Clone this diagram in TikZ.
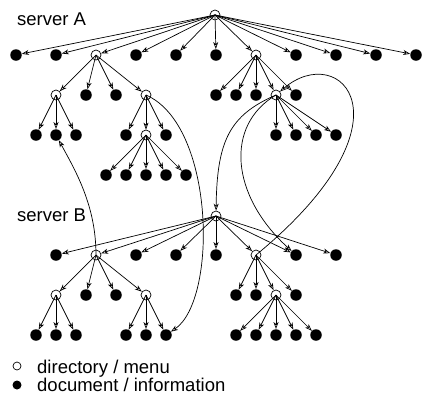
\documentclass[tikz,border=0pt]{standalone}
\usepackage{fontspec}
\setmainfont{Liberation Sans}
\usetikzlibrary{arrows.meta}
\begin{document}
\begin{tikzpicture}[x=1pt,y=-1pt,
  dir/.style={circle,draw,line width=0.7pt,minimum size=10pt,inner sep=0pt},
  doc/.style={circle,fill=black,minimum size=11.5pt,inner sep=0pt},
  arr/.style={line width=0.7pt,-{Stealth[open,length=7pt,width=5pt,inset=2pt]}},
  lab/.style={font=\fontsize{18.5}{20}\selectfont,anchor=base west,inner sep=0pt},
  legdir/.style={circle,draw,line width=0.7pt,minimum size=8pt,inner sep=0pt},
  legdoc/.style={circle,fill=black,minimum size=9pt,inner sep=0pt}]
\useasboundingbox (0,0) rectangle (433,405);

% ---------------- server A ----------------
\node[lab] (labA) at (17,25) {server A};
\node[dir] (A0) at (215,15) {};
\node[doc] (a1) at (16,55) {};
\node[doc] (a2) at (56,55) {};
\node[dir] (a3) at (96,55) {};
\node[doc] (a4) at (136,55) {};
\node[doc] (a5) at (176,55) {};
\node[doc] (a6) at (216,55) {};
\node[dir] (a7) at (256,55) {};
\node[doc] (a8) at (296,55) {};
\node[doc] (a9) at (336,55) {};
\node[doc] (a10) at (376,55) {};
\node[doc] (a11) at (416,55) {};
\node[dir] (a31) at (56,95) {};
\node[doc] (a32) at (86,95) {};
\node[doc] (a33) at (116,95) {};
\node[dir] (a34) at (146,95) {};
\node[doc] (a311) at (36,135) {};
\node[doc] (a312) at (56,135) {};
\node[doc] (a313) at (76,135) {};
\node[doc] (a341) at (126,135) {};
\node[dir] (a342) at (146,135) {};
\node[doc] (a343) at (166,135) {};
\node[doc] (a3421) at (106,175) {};
\node[doc] (a3422) at (126,175) {};
\node[doc] (a3423) at (146,175) {};
\node[doc] (a3424) at (166,175) {};
\node[doc] (a3425) at (186,175) {};
\node[doc] (a71) at (216,95) {};
\node[doc] (a72) at (236,95) {};
\node[doc] (a73) at (256,95) {};
\node[dir] (a74) at (276,95) {};
\node[doc] (a75) at (296,95) {};
\node[doc] (a741) at (276,135) {};
\node[doc] (a742) at (296,135) {};
\node[doc] (a743) at (316,135) {};
\node[doc] (a744) at (336,135) {};

% ---------------- server B ----------------
\node[lab] (labB) at (17,221) {server B};
\node[dir] (B0) at (216,216) {};
\node[doc] (b1) at (56,255) {};
\node[dir] (b2) at (96,255) {};
\node[doc] (b3) at (136,255) {};
\node[doc] (b4) at (176,255) {};
\node[doc] (b5) at (216,255) {};
\node[dir] (b6) at (256,255) {};
\node[doc] (b7) at (296,255) {};
\node[doc] (b8) at (336,255) {};
\node[dir] (b21) at (56,295) {};
\node[doc] (b22) at (86,295) {};
\node[doc] (b23) at (116,295) {};
\node[dir] (b24) at (146,295) {};
\node[doc] (b211) at (36,335) {};
\node[doc] (b212) at (56,335) {};
\node[doc] (b213) at (76,335) {};
\node[doc] (b241) at (126,335) {};
\node[doc] (b242) at (146,335) {};
\node[doc] (b243) at (166,335) {};
\node[doc] (b61) at (236,295) {};
\node[doc] (b62) at (256,295) {};
\node[dir] (b63) at (276,295) {};
\node[doc] (b64) at (296,295) {};
\node[doc] (b631) at (236,335) {};
\node[doc] (b632) at (256,335) {};
\node[doc] (b633) at (276,335) {};
\node[doc] (b634) at (296,335) {};
\node[doc] (b635) at (316,335) {};

% ---------------- tree edges ----------------
\foreach \c in {a1,a2,a3,a4,a5,a6,a7,a8,a9,a10,a11} \draw[arr] (A0.center) -- (\c);
\foreach \c in {a31,a32,a33,a34} \draw[arr] (a3.center) -- (\c);
\foreach \c in {a311,a312,a313} \draw[arr] (a31.center) -- (\c);
\foreach \c in {a341,a342,a343} \draw[arr] (a34.center) -- (\c);
\foreach \c in {a3421,a3422,a3423,a3424,a3425} \draw[arr] (a342.center) -- (\c);
\foreach \c in {a71,a72,a73,a74,a75} \draw[arr] (a7.center) -- (\c);
\foreach \c in {a741,a742,a743,a744} \draw[arr] (a74.center) -- (\c);
\foreach \c in {b1,b2,b3,b4,b5,b6,b7,b8} \draw[arr] (B0.center) -- (\c);
\foreach \c in {b21,b22,b23,b24} \draw[arr] (b2.center) -- (\c);
\foreach \c in {b211,b212,b213} \draw[arr] (b21.center) -- (\c);
\foreach \c in {b241,b242,b243} \draw[arr] (b24.center) -- (\c);
\foreach \c in {b61,b62,b63,b64} \draw[arr] (b6.center) -- (\c);
\foreach \c in {b631,b632,b633,b634,b635} \draw[arr] (b63.center) -- (\c);

% ---------------- cross links ----------------
\draw[arr] (a34.center) .. controls (215,125) and (218,300) .. (b243);
\draw[arr] (b2.center) .. controls (96,205) and (75,170) .. (a312);
\draw[arr] (a74.center) .. controls (230,115) and (217,140) .. (B0);
\draw[arr] (a74.center) .. controls (225,125) and (230,195) .. (b7);
\draw[arr] (b6.center) .. controls (420,120) and (340,40) .. (a74);

% ---------------- legend ----------------
\node[legdir] (leg1) at (17,366) {};
\node[legdoc] (leg2) at (17,385) {};
\node[lab] (legt1) at (37,373) {directory / menu};
\node[lab] (legt2) at (37,391) {document / information};
\end{tikzpicture}
\end{document}
